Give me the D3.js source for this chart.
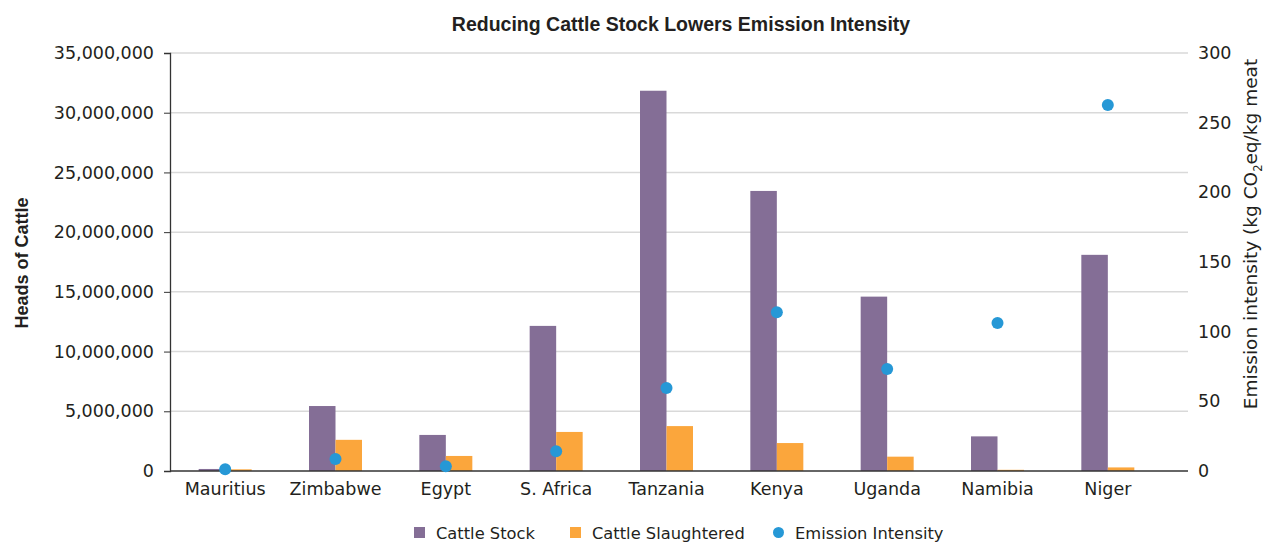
<!DOCTYPE html>
<html>
<head>
<meta charset="utf-8">
<script src="https://cdn.jsdelivr.net/npm/d3@7"></script>
<style>
  body { margin: 0; background: #fff; }
  text { fill: #231f20; }
</style>
</head>
<body>
<div id="chart"></div>
<script>
var countries = ["Mauritius", "Zimbabwe", "Egypt", "S. Africa", "Tanzania", "Kenya", "Uganda", "Namibia", "Niger"];
var cattleStock = [170000, 5440000, 3020000, 12150000, 31840000, 23450000, 14600000, 2900000, 18100000];
var cattleSlaughtered = [140000, 2610000, 1260000, 3270000, 3760000, 2340000, 1200000, 100000, 300000];
var emissionIntensity = [1.2, 8.6, 3.4, 14.1, 59.6, 114.0, 73.2, 106.2, 262.7];
var leftTicks = [0, 5000000, 10000000, 15000000, 20000000, 25000000, 30000000, 35000000];
var rightTicks = [0, 50, 100, 150, 200, 250, 300];

var width = 1265,
    height = 542;

var plotLeft = 170,
    plotRight = 1188,
    bandRight = 1163,
    plotTop = 53,
    plotBottom = 471;

var purple = "#846e96",
    orange = "#fba63c",
    blue = "#2698d6";

var svg = d3.select("#chart")
            .append("svg")
            .attr("width", width)
            .attr("height", height)
            .style("font-family", "'DejaVu Sans', sans-serif");

var x = d3.scaleBand()
          .domain(countries)
          .range([plotLeft, bandRight])
          .paddingInner(0)
          .paddingOuter(0);

var barW = 26.5;

var yLeft = d3.scaleLinear()
              .domain([0, 35000000])
              .range([plotBottom, plotTop]);

var yRight = d3.scaleLinear()
               .domain([0, 300])
               .range([plotBottom, plotTop]);

// gridlines
svg.append("g")
   .selectAll("line")
   .data(leftTicks.slice(1))
   .enter()
   .append("line")
   .attr("x1", plotLeft)
   .attr("x2", plotRight)
   .attr("y1", function(d){ return yLeft(d); })
   .attr("y2", function(d){ return yLeft(d); })
   .attr("stroke", "#d9d9d9")
   .attr("stroke-width", 1.5);

// bars
var groups = svg.append("g")
                .selectAll("g")
                .data(countries)
                .enter()
                .append("g");

groups.append("rect")
      .attr("x", function(d){ return x(d) + x.bandwidth() / 2 - barW; })
      .attr("y", function(d, i){ return yLeft(cattleStock[i]); })
      .attr("width", barW)
      .attr("height", function(d, i){ return plotBottom - yLeft(cattleStock[i]); })
      .attr("fill", purple);

groups.append("rect")
      .attr("x", function(d){ return x(d) + x.bandwidth() / 2; })
      .attr("y", function(d, i){ return yLeft(cattleSlaughtered[i]); })
      .attr("width", barW)
      .attr("height", function(d, i){ return plotBottom - yLeft(cattleSlaughtered[i]); })
      .attr("fill", orange);

// left axis
var leftAxis = svg.append("g")
   .attr("transform", "translate(" + plotLeft + ",0)")
   .call(d3.axisLeft(yLeft).tickValues(leftTicks).tickFormat(d3.format(",")).tickSize(6).tickPadding(10));
leftAxis.select(".domain").attr("stroke", "#333").attr("stroke-width", 1.3);
leftAxis.selectAll(".tick line").attr("stroke", "#333");
leftAxis.selectAll("text").style("font-size", "17.5px").attr("fill", "#231f20").style("font-family", "'DejaVu Sans', sans-serif");

// right axis
var rightAxis = svg.append("g")
   .attr("transform", "translate(" + plotRight + ",0)")
   .call(d3.axisRight(yRight).tickValues(rightTicks).tickSize(0).tickPadding(10));
rightAxis.select(".domain").remove();
rightAxis.selectAll("text").style("font-size", "17.5px").attr("fill", "#231f20").style("font-family", "'DejaVu Sans', sans-serif");

// x axis
var xAxis = svg.append("g")
   .attr("transform", "translate(0," + plotBottom + ")")
   .call(d3.axisBottom(x).tickSize(0).tickPadding(12));
xAxis.select(".domain").remove();
xAxis.selectAll("text").style("font-size", "17.5px").attr("fill", "#231f20").style("font-family", "'DejaVu Sans', sans-serif");

svg.append("line")
   .attr("x1", plotLeft)
   .attr("x2", plotRight)
   .attr("y1", plotBottom)
   .attr("y2", plotBottom)
   .attr("stroke", "#333")
   .attr("stroke-width", 1.5);

// emission dots
svg.append("g")
   .selectAll("circle")
   .data(countries)
   .enter()
   .append("circle")
   .attr("cx", function(d){ return x(d) + x.bandwidth() / 2; })
   .attr("cy", function(d, i){ return yRight(emissionIntensity[i]); })
   .attr("r", 6)
   .attr("fill", blue);

// titles
svg.append("text")
   .attr("x", 681)
   .attr("y", 31)
   .attr("text-anchor", "middle")
   .style("font-family", "'Liberation Sans', Arial, sans-serif")
   .style("font-weight", "bold")
   .style("font-size", "19.5px")
   .text("Reducing Cattle Stock Lowers Emission Intensity");

svg.append("text")
   .attr("transform", "translate(28,263) rotate(-90)")
   .attr("text-anchor", "middle")
   .style("font-family", "'Liberation Sans', Arial, sans-serif")
   .style("font-weight", "bold")
   .style("font-size", "18px")
   .text("Heads of Cattle");

var rt = svg.append("text")
   .attr("transform", "translate(1257,234) rotate(-90)")
   .attr("text-anchor", "middle")
   .style("font-size", "18.5px");
rt.append("tspan").text("Emission intensity (kg CO");
rt.append("tspan").text("2").style("font-size", "11.5px").attr("dy", 4.5);
rt.append("tspan").text("eq/kg meat").attr("dy", -4.5);

// legend
var legendItems = [
  { label: "Cattle Stock", color: purple, shape: "rect", x: 414 },
  { label: "Cattle Slaughtered", color: orange, shape: "rect", x: 570 },
  { label: "Emission Intensity", color: blue, shape: "circle", x: 773 }
];

var legend = svg.append("g")
                .selectAll("g")
                .data(legendItems)
                .enter()
                .append("g")
                .attr("transform", function(d){ return "translate(" + d.x + ",532)"; });

legend.filter(function(d){ return d.shape == "rect"; })
      .append("rect")
      .attr("x", 0)
      .attr("y", -5)
      .attr("width", 11)
      .attr("height", 11)
      .attr("fill", function(d){ return d.color; });

legend.filter(function(d){ return d.shape == "circle"; })
      .append("circle")
      .attr("cx", 5.5)
      .attr("cy", 0.5)
      .attr("r", 5.5)
      .attr("fill", function(d){ return d.color; });

legend.append("text")
      .attr("x", 22)
      .attr("y", 6.5)
      .style("font-size", "16.3px")
      .text(function(d){ return d.label; });
</script>
</body>
</html>
